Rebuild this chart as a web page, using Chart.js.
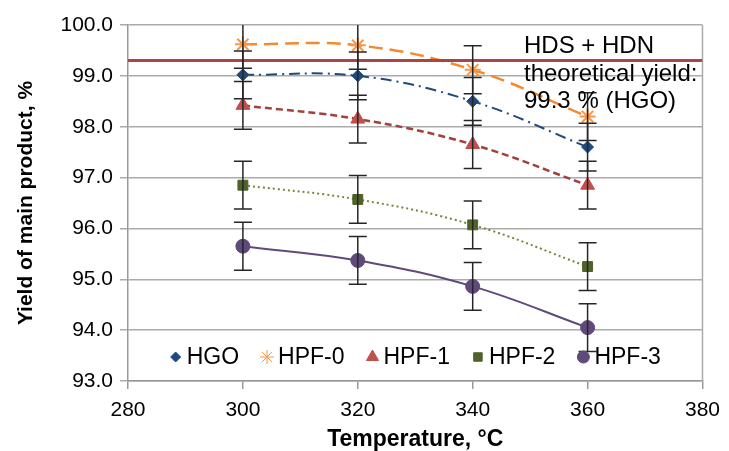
<!DOCTYPE html>
<html>
<head>
<meta charset="utf-8">
<script src="https://cdn.jsdelivr.net/npm/chart.js@4.4.0/dist/chart.umd.min.js"></script>
<style>
  html, body { margin: 0; padding: 0; background: #fff; }
</style>
</head>
<body>
<canvas id="myChart" width="729" height="451"></canvas>
<script>
// data
let temps = [300, 320, 340, 360];
let hgo  = [99.02, 99.00, 98.50, 97.60];
let hpf0 = [99.62, 99.60, 99.12, 98.20];
let hpf1 = [98.42, 98.15, 97.65, 96.85];
let hpf2 = [96.85, 96.57, 96.07, 95.25];
let hpf3 = [95.65, 95.37, 94.86, 94.05];

// error bars (+/-)
let errHgo  = [0.47, 0.47, 0.47, 0.47];
let errHpf0 = [0.47, 0.47, 0.47, 0.47];
let errHpf1 = [0.47, 0.47, 0.47, 0.47];
let errHpf2 = [0.47, 0.47, 0.47, 0.47];
let errHpf3 = [0.47, 0.47, 0.47, 0.47];

let xTicks = [280, 300, 320, 340, 360, 380];
let yTicks = [93, 94, 95, 96, 97, 98, 99, 100];
let theoreticalYield = 99.3;
let noteLines = ["HDS + HDN", "theoretical yield:", "99.3 % (HGO)"];

const FONT = "'Liberation Sans', Arial, sans-serif";
Chart.defaults.font.family = FONT;
Chart.defaults.color = "#000";

function pts(ys) {
  return temps.map((t, i) => ({ x: t, y: ys[i] }));
}

function series(label, ys, errs, color, lineColor, dash, width, style, radius) {
  return {
    label: label,
    data: pts(ys),
    errors: errs,
    showLine: true,
    tension: 0.4,
    borderColor: lineColor,
    borderWidth: width,
    borderDash: dash,
    backgroundColor: color,
    pointStyle: style,
    pointRadius: radius,
    pointBackgroundColor: color,
    pointBorderColor: color,
    pointBorderWidth: style === "star" ? 2 : 1,
    legendRadius: radius - 1
  };
}

// draws a marker (falls back to a circle if helpers are missing)
function marker(ctx, style, r, x, y) {
  if (Chart.helpers && Chart.helpers.drawPoint) {
    Chart.helpers.drawPoint(ctx, { pointStyle: style, radius: r, rotation: 0, borderWidth: style === "star" ? 2 : 1 }, x, y);
  } else {
    ctx.beginPath(); ctx.arc(x, y, r, 0, Math.PI * 2); ctx.fill();
  }
}

const errorBars = {
  id: "errorBars",
  beforeDatasetsDraw(chart) {
    const { ctx, chartArea } = chart;
    // right frame line of the plot area
    ctx.save();
    ctx.strokeStyle = "#ABABAB";
    ctx.lineWidth = 1.5;
    ctx.beginPath();
    ctx.moveTo(chartArea.right, chartArea.top);
    ctx.lineTo(chartArea.right, chartArea.bottom);
    ctx.stroke();
    ctx.restore();
  },
  afterDatasetsDraw(chart) {
    const { ctx, chartArea } = chart;
    const xs = chart.scales.x, ys = chart.scales.y;
    ctx.save();
    ctx.beginPath();
    ctx.rect(chartArea.left, chartArea.top, chartArea.width, chartArea.height);
    ctx.clip();
    ctx.strokeStyle = "#262626";
    ctx.lineWidth = 1.5;
    chart.data.datasets.forEach(ds => {
      if (!ds.errors) return;
      ds.data.forEach((p, i) => {
        const e = ds.errors[i];
        const px = xs.getPixelForValue(p.x);
        const yt = ys.getPixelForValue(p.y + e);
        const yb = ys.getPixelForValue(p.y - e);
        ctx.beginPath();
        ctx.moveTo(px, yt); ctx.lineTo(px, yb);
        ctx.moveTo(px - 9, yt); ctx.lineTo(px + 9, yt);
        ctx.moveTo(px - 9, yb); ctx.lineTo(px + 9, yb);
        ctx.stroke();
      });
    });
    ctx.restore();
  },
  afterDraw(chart) {
    const { ctx, chartArea } = chart;
    // legend inside the plot, at the bottom
    ctx.save();
    ctx.font = "23px " + FONT;
    ctx.textBaseline = "middle";
    ctx.textAlign = "left";
    const items = chart.data.datasets.filter(d => d.errors);
    let total = 0;
    items.forEach((d, i) => {
      total += 17 + ctx.measureText(d.label).width + (i < items.length - 1 ? 22 : 0);
    });
    let x = (chartArea.left + chartArea.right) / 2 - total / 2;
    const y = chartArea.bottom - 24;
    items.forEach(d => {
      ctx.fillStyle = d.pointBackgroundColor;
      ctx.strokeStyle = d.pointBorderColor;
      marker(ctx, d.pointStyle, d.legendRadius, x + 6, y);
      ctx.fillStyle = "#000";
      ctx.fillText(d.label, x + 17, y + 1);
      x += 17 + ctx.measureText(d.label).width + 22;
    });

    // note next to the theoretical line
    ctx.font = "24px " + FONT;
    ctx.textBaseline = "alphabetic";
    noteLines.forEach((t, i) => {
      ctx.fillText(t, chartArea.left + 396, chartArea.top + 28 + i * 27.5);
    });
    ctx.restore();
  }
};

let ctx = document.getElementById("myChart").getContext("2d");
let chart = new Chart(ctx, {
  type: "scatter",
  data: {
    datasets: [
      {
        label: "theoretical",
        data: [{ x: xTicks[0], y: theoreticalYield }, { x: xTicks[xTicks.length - 1], y: theoreticalYield }],
        showLine: true,
        borderColor: "#A94643",
        borderWidth: 3,
        pointRadius: 0,
        tension: 0
      },
      series("HGO",   hgo,  errHgo,  "#1F497D", "#1F4A7A", [11, 5, 2, 5], 2, "rectRot", 6),
      series("HPF-0", hpf0, errHpf0, "#F79646", "#F28A30", [14, 7], 2.5, "star", 8),
      series("HPF-1", hpf1, errHpf1, "#C0504D", "#A33F3C", [7, 4], 2.5, "triangle", 8),
      series("HPF-2", hpf2, errHpf2, "#4F6228", "#6E8A3C", [2, 3], 2, "rect", 7),
      series("HPF-3", hpf3, errHpf3, "#604A7B", "#604A7B", [], 2, "circle", 7)
    ]
  },
  options: {
    responsive: false,
    animation: false,
    layout: { padding: { left: 0, right: 25, top: 25, bottom: 0 } },
    plugins: {
      legend: { display: false },
      tooltip: { enabled: false }
    },
    scales: {
      x: {
        type: "linear",
        min: 280,
        max: 380,
        afterBuildTicks: s => { s.ticks = xTicks.map(v => ({ value: v })); },
        ticks: { font: { size: 21 }, color: "#000", padding: 9 },
        grid: { drawOnChartArea: false, color: "#999", tickLength: 8, lineWidth: 1.5 },
        border: { color: "#999", width: 1.5 },
        title: {
          display: true,
          text: "Temperature, °C",
          color: "#000",
          font: { size: 23, weight: "bold", lineHeight: 1 },
          padding: 0
        },
        afterFit: s => { s.height = 70; }
      },
      y: {
        min: 93,
        max: 100,
        afterBuildTicks: s => { s.ticks = yTicks.map(v => ({ value: v })); },
        ticks: { font: { size: 21 }, color: "#000", padding: 7, callback: v => v.toFixed(1) },
        grid: { color: "#ABABAB", lineWidth: 1.5, tickLength: 8 },
        border: { color: "#999", width: 1.5 },
        title: {
          display: true,
          text: "Yield of main product, %",
          color: "#000",
          font: { size: 21, weight: "bold" },
          padding: { top: 14, bottom: 0 }
        },
        afterFit: s => { s.width = 128; }
      }
    }
  },
  plugins: [errorBars]
});
</script>
</body>
</html>
